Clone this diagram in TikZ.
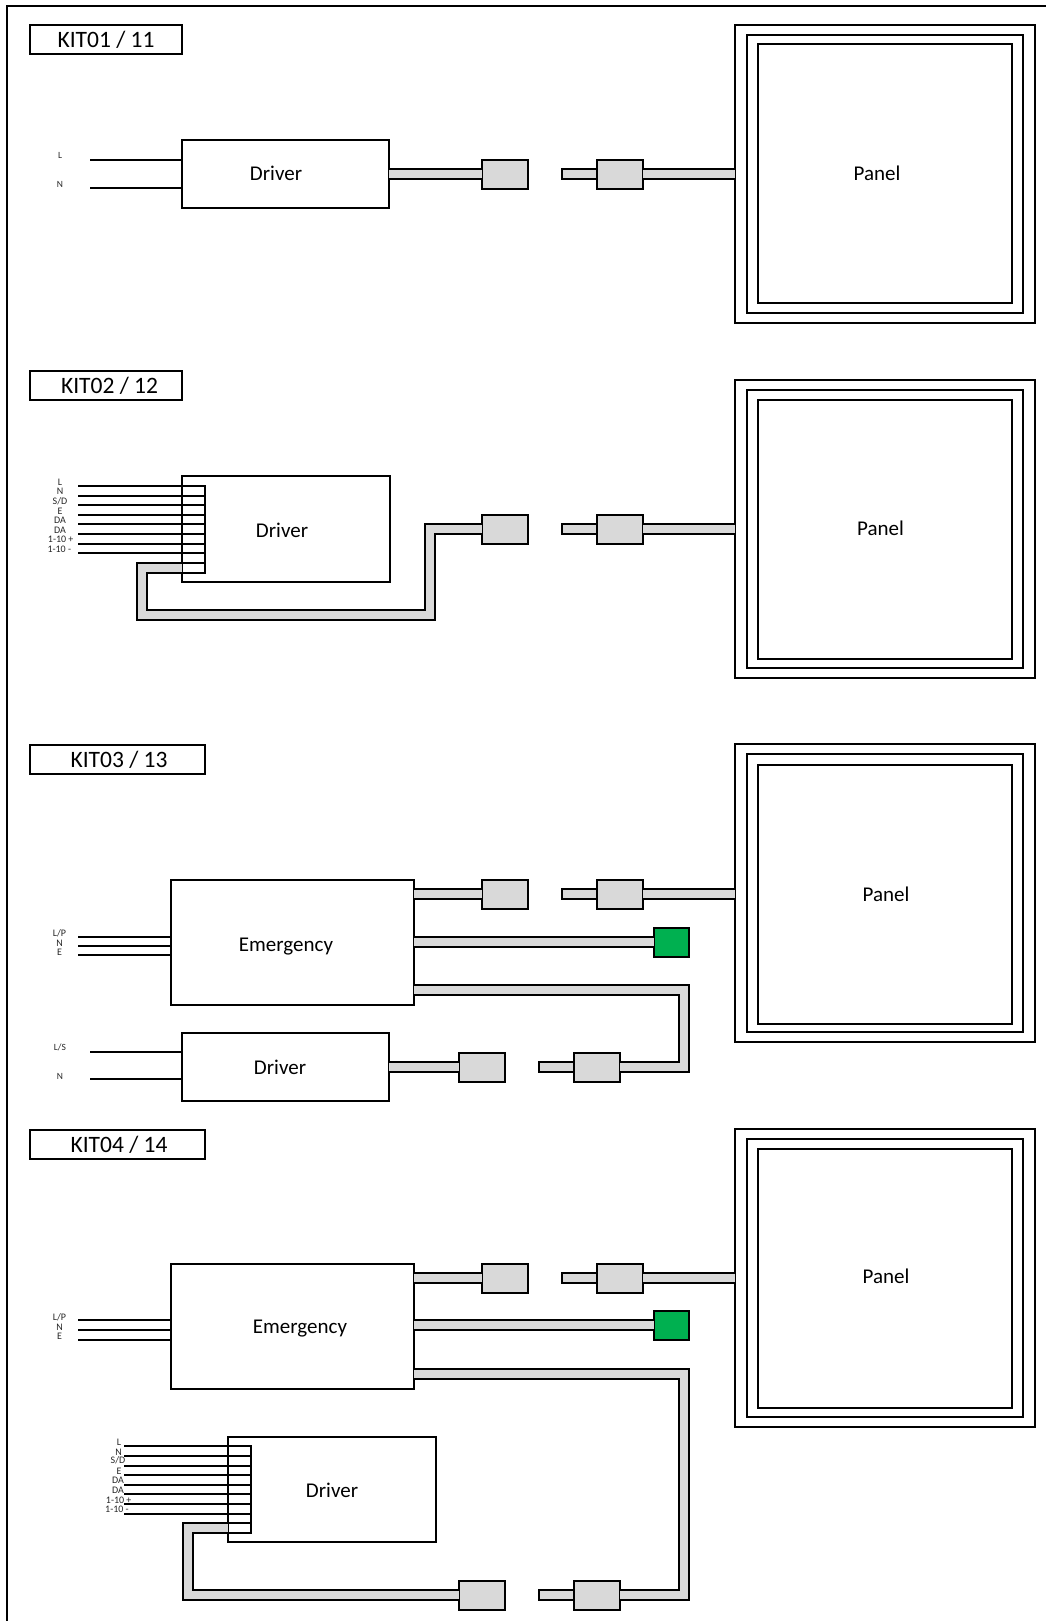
\documentclass[tikz,border=0pt]{standalone}
\usepackage{fontspec}
\setmainfont{Carlito}
\definecolor{cablegrey}{HTML}{D9D9D9}
\definecolor{emgreen}{HTML}{00B050}
\tikzstyle{bare} = [draw=black, line width=2pt, inner sep=0pt, outer sep=0pt, anchor=north west, rectangle]
\tikzstyle{kitbox} = [bare, font=\fontsize{23.5}{23.5}\selectfont, minimum height=29pt]
\tikzstyle{drvshort} = [bare, minimum width=207pt, minimum height=68pt]
\tikzstyle{drvtall} = [bare, minimum width=208pt, minimum height=105pt]
\tikzstyle{embox} = [bare, minimum width=243pt, minimum height=125pt]
\tikzstyle{panout} = [bare, minimum width=300pt, minimum height=298pt]
\tikzstyle{panmid} = [bare, minimum width=276pt, minimum height=278pt]
\tikzstyle{panin} = [bare, minimum width=254pt, minimum height=259pt]
\tikzstyle{conbox} = [bare, fill=cablegrey, minimum width=46pt, minimum height=29pt]
\tikzstyle{plugbox} = [bare, fill=cablegrey, minimum width=35pt, minimum height=10pt]
\tikzstyle{lampbox} = [bare, fill=emgreen, minimum width=35pt, minimum height=29pt]
\tikzstyle{caption} = [font=\fontsize{21}{21}\selectfont, inner sep=0pt]
\tikzstyle{tag} = [font=\fontsize{10}{10}\selectfont, inner sep=0pt, text=black!85]
\tikzstyle{smalltag} = [font=\fontsize{9.5}{9.5}\selectfont, inner sep=0pt, text=black!85]
\tikzstyle{wire} = [draw=black, line width=2pt]
\tikzstyle{cable} = [draw=black, line width=2pt, double=cablegrey, double distance=8pt]

\begin{document}
\begin{tikzpicture}[x=1pt, y=-1pt]
	\useasboundingbox (0,0) rectangle (1045,1621);
	% outer frame
	\coordinate (frameA) at (7,1621);
	\coordinate (frameB) at (7,6);
	\coordinate (frameC) at (1045,6);
	\draw[wire, line cap=rect] (frameA) -- (frameB) -- (frameC);

	% first kit
	\node[kitbox, minimum width=152pt] (kitA) at (30,25) {KIT01 / 11};
	\node[panout] (panAo) at (735,25) {};
	\node[panmid] (panAm) at (747,35) {};
	\node[panin] (panAi) at (758,44) {};
	\node[caption] (panAt) at (877,173) {Panel};
	\node[drvshort] (drvA) at (182,140) {};
	\node[caption] (drvAt) at (276,173) {Driver};
	\node[smalltag] (tagA1) at (60,155) {L};
	\node[smalltag] (tagA2) at (60,184) {N};
	\coordinate (wA1) at (90,160);
	\coordinate (wA2) at (90,188);
	\draw[wire] (wA1) -- (wA1 -| drvA.west);
	\draw[wire] (wA2) -- (wA2 -| drvA.west);
	\coordinate (cabA1) at (389,174);
	\node[conbox] (conA1) at (482,160) {};
	\node[plugbox] (plugA) at (562,169) {};
	\node[conbox] (conA2) at (597,160) {};
	\draw[cable] (cabA1) -- (cabA1 -| conA1.west);
	\draw[cable] (conA2.east |- cabA1) -- (cabA1 -| panAo.west);

	% second kit
	\node[kitbox, minimum width=152pt] (kitB) at (30,371) {\hspace{7pt}KIT02 / 12};
	\node[panout] (panBo) at (735,380) {};
	\node[panmid] (panBm) at (747,390) {};
	\node[panin] (panBi) at (758,400) {};
	\node[caption] (panBt) at (880.6,528) {Panel};
	\node[drvtall, minimum height=106pt] (drvB) at (182,476) {};
	\node[caption] (drvBt) at (282,530) {Driver};
	\node[tag] (tagB1) at (60,482) {L};
	\node[tag] (tagB2) at (60,491) {N};
	\node[tag] (tagB3) at (60,501) {S/D};
	\node[tag] (tagB4) at (60,511) {E};
	\node[tag] (tagB5) at (60,520) {DA};
	\node[tag] (tagB6) at (60,530) {DA};
	\node[tag] (tagB7) at (60.7,539) {1-10 +};
	\node[tag] (tagB8) at (59.3,549) {1-10 -};
	\coordinate (busB) at (205,486);
	\coordinate (busBe) at (205,573);
	\draw[wire, line cap=rect] (busB) -- (busBe);
	\coordinate (wB1) at (78,486);
	\coordinate (wB2) at (78,496);
	\coordinate (wB3) at (78,505);
	\coordinate (wB4) at (78,515);
	\coordinate (wB5) at (78,524);
	\coordinate (wB6) at (78,534);
	\coordinate (wB7) at (78,544);
	\coordinate (wB8) at (78,553);
	\draw[wire] (wB1) -- (wB1 -| busB);
	\draw[wire] (wB2) -- (wB2 -| busB);
	\draw[wire] (wB3) -- (wB3 -| busB);
	\draw[wire] (wB4) -- (wB4 -| busB);
	\draw[wire] (wB5) -- (wB5 -| busB);
	\draw[wire] (wB6) -- (wB6 -| busB);
	\draw[wire] (wB7) -- (wB7 -| busB);
	\draw[wire] (wB8) -- (wB8 -| busB);
	\coordinate (cabB) at (182,568);
	\coordinate (cabBa) at (142,615);
	\coordinate (cabBb) at (430,529);
	\coordinate (stubB1) at (182,563);
	\coordinate (stubB2) at (182,573);
	\draw[wire] (stubB1) -- (stubB1 -| busB);
	\draw[wire] (stubB2) -- (stubB2 -| busB);
	\node[conbox] (conB1) at (482,515) {};
	\node[plugbox] (plugB) at (562,524) {};
	\node[conbox] (conB2) at (597,515) {};
	\draw[cable] (cabB) -| (cabBa) -| (cabBb) -- (cabBb -| conB1.west);
	\draw[cable] (conB2.east |- cabBb) -- (cabBb -| panBo.west);

	% third kit
	\node[kitbox, minimum width=175pt] (kitC) at (30,745) {\hspace{3pt}KIT03 / 13};
	\node[panout] (panCo) at (735,744) {};
	\node[panmid] (panCm) at (747,754) {};
	\node[panin] (panCi) at (758,765) {};
	\node[caption] (panCt) at (886,894) {Panel};
	\node[embox] (emC) at (171,880) {};
	\node[caption] (emCt) at (286,947) {Emergency};
	\node[tag] (tagC1) at (59.5,933) {L/P};
	\node[tag] (tagC2) at (59.5,943) {N};
	\node[tag] (tagC3) at (59.5,952) {E};
	\coordinate (wC1) at (78,937);
	\coordinate (wC2) at (78,946);
	\coordinate (wC3) at (78,955);
	\draw[wire] (wC1) -- (wC1 -| emC.west);
	\draw[wire] (wC2) -- (wC2 -| emC.west);
	\draw[wire] (wC3) -- (wC3 -| emC.west);
	\node[conbox] (conC1) at (482,880) {};
	\node[plugbox] (plugC) at (562,889) {};
	\node[conbox] (conC2) at (597,880) {};
	\node[lampbox] (lampC) at (654,928) {};
	\coordinate (cabC1) at (414,894);
	\coordinate (cabC2) at (414,942);
	\coordinate (cabC3) at (414,990);
	\coordinate (cabCa) at (684,1067);
	\draw[cable] (cabC1) -- (cabC1 -| conC1.west);
	\draw[cable] (conC2.east |- cabC1) -- (cabC1 -| panCo.west);
	\draw[cable] (cabC2) -- (cabC2 -| lampC.west);
	\node[drvshort] (drvC) at (182,1033) {};
	\node[caption] (drvCt) at (280,1067) {Driver};
	\node[smalltag] (tagC4) at (60,1047.5) {L/S};
	\node[smalltag] (tagC5) at (60,1076.5) {N};
	\coordinate (wC4) at (90,1052);
	\coordinate (wC5) at (90,1079);
	\draw[wire] (wC4) -- (wC4 -| drvC.west);
	\draw[wire] (wC5) -- (wC5 -| drvC.west);
	\node[conbox] (conC3) at (459,1053) {};
	\node[plugbox] (plugC2) at (539,1062) {};
	\node[conbox] (conC4) at (574,1053) {};
	\draw[cable] (drvC.east |- cabCa) -- (cabCa -| conC3.west);
	\draw[cable] (cabC3) -| (cabCa) -- (cabCa -| conC4.east);

	% fourth kit
	\node[kitbox, minimum width=175pt] (kitD) at (30,1130) {\hspace{3pt}KIT04 / 14};
	\node[panout] (panDo) at (735,1129) {};
	\node[panmid] (panDm) at (747,1139) {};
	\node[panin] (panDi) at (758,1149) {};
	\node[caption] (panDt) at (886,1276.5) {Panel};
	\node[embox] (emD) at (171,1264) {};
	\node[caption] (emDt) at (300,1329) {Emergency};
	\node[tag] (tagD1) at (59.5,1317) {L/P};
	\node[tag] (tagD2) at (59.5,1327) {N};
	\node[tag] (tagD3) at (59.5,1336.5) {E};
	\coordinate (wD1) at (78,1320);
	\coordinate (wD2) at (78,1330);
	\coordinate (wD3) at (78,1340);
	\draw[wire] (wD1) -- (wD1 -| emD.west);
	\draw[wire] (wD2) -- (wD2 -| emD.west);
	\draw[wire] (wD3) -- (wD3 -| emD.west);
	\node[conbox] (conD1) at (482,1264) {};
	\node[plugbox] (plugD) at (562,1273) {};
	\node[conbox] (conD2) at (597,1264) {};
	\node[lampbox] (lampD) at (654,1311) {};
	\coordinate (cabD1) at (414,1278);
	\coordinate (cabD2) at (414,1325);
	\coordinate (cabD3) at (414,1374);
	\coordinate (cabDa) at (684,1595);
	\draw[cable] (cabD1) -- (cabD1 -| conD1.west);
	\draw[cable] (conD2.east |- cabD1) -- (cabD1 -| panDo.west);
	\draw[cable] (cabD2) -- (cabD2 -| lampD.west);
	\node[drvtall] (drvD) at (228,1437) {};
	\node[caption] (drvDt) at (332,1490) {Driver};
	\node[tag] (tagD4) at (119,1442) {L};
	\node[tag] (tagD5) at (118.7,1452) {N};
	\node[tag] (tagD6) at (118,1460.5) {S/D};
	\node[tag] (tagD7) at (119,1471) {E};
	\node[tag] (tagD8) at (118,1480) {DA};
	\node[tag] (tagD9) at (118,1490) {DA};
	\node[tag] (tagD10) at (118.7,1500) {1-10 +};
	\node[tag] (tagD11) at (117,1509) {1-10 -};
	\coordinate (busD) at (251,1446);
	\coordinate (busDe) at (251,1533);
	\draw[wire, line cap=rect] (busD) -- (busDe);
	\coordinate (wD4) at (124,1446);
	\coordinate (wD5) at (124,1456);
	\coordinate (wD6) at (124,1466);
	\coordinate (wD7) at (124,1475);
	\coordinate (wD8) at (124,1485);
	\coordinate (wD9) at (124,1494);
	\coordinate (wD10) at (124,1504);
	\coordinate (wD11) at (124,1514);
	\draw[wire] (wD4) -- (wD4 -| busD);
	\draw[wire] (wD5) -- (wD5 -| busD);
	\draw[wire] (wD6) -- (wD6 -| busD);
	\draw[wire] (wD7) -- (wD7 -| busD);
	\draw[wire] (wD8) -- (wD8 -| busD);
	\draw[wire] (wD9) -- (wD9 -| busD);
	\draw[wire] (wD10) -- (wD10 -| busD);
	\draw[wire] (wD11) -- (wD11 -| busD);
	\coordinate (cabD) at (228,1528);
	\coordinate (cabDb) at (188,1595);
	\coordinate (stubD1) at (228,1523);
	\coordinate (stubD2) at (228,1533);
	\draw[wire] (stubD1) -- (stubD1 -| busD);
	\draw[wire] (stubD2) -- (stubD2 -| busD);
	\node[conbox] (conD3) at (459,1581) {};
	\node[plugbox] (plugD2) at (539,1590) {};
	\node[conbox] (conD4) at (574,1581) {};
	\draw[cable] (cabD) -| (cabDb) -- (cabDb -| conD3.west);
	\draw[cable] (cabD3) -| (cabDa) -- (cabDa -| conD4.east);
\end{tikzpicture}
\end{document}
